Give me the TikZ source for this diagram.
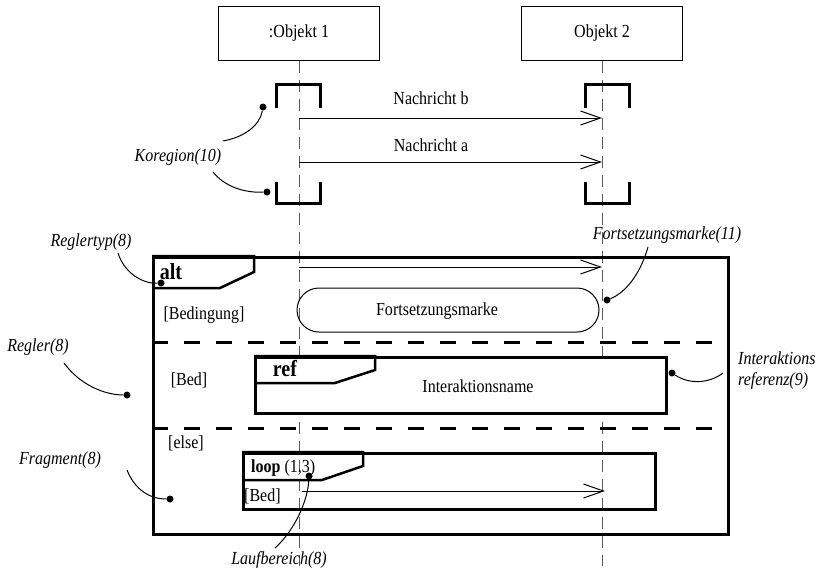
\documentclass[tikz,border=0pt]{standalone}
\usepackage{fontspec}
\setmainfont{Liberation Serif}[FakeStretch=0.87]
\usetikzlibrary{arrows.meta}
\begin{document}
\begin{tikzpicture}[x=1pt,y=-1pt,
  every node/.style={inner sep=0pt, font=\fontsize{18.4}{21}\selectfont},
  obj/.style={draw, line width=1pt, minimum width=161pt, minimum height=54pt},
  lifeline/.style={draw=black!65, line width=1pt, dash pattern=on 12pt off 7pt},
  coreg/.style={line width=3pt},
  msg/.style={line width=1pt, -{Straight Barb[length=20pt,width=14pt,line width=1pt]}},
  frame/.style={draw, line width=2.5pt},
  sep/.style={line width=3pt, dash pattern=on 16pt off 16pt},
  note/.style={font=\fontsize{18.4}{21}\selectfont\itshape},
  dot/.style={circle, fill, minimum size=7pt, inner sep=0pt},
  lead/.style={line width=1pt},
  kw/.style={font=\fontsize{23}{26}\selectfont\bfseries}
]
\useasboundingbox (0,0) rectangle (819,573);

% objects and their lifelines
\node[obj] (o1) at (299,33) {:Objekt 1};
\node[obj] (o2) at (602,33) {Objekt 2};
\coordinate (l1end) at (299,566);
\coordinate (l2end) at (602,566);
\draw[lifeline] (o1.south) -- (l1end);
\draw[lifeline] (o2.south) -- (l2end);

% coregions
\draw[coreg] (276,108) -- (276,84) -- (320,84) -- (320,108);
\draw[coreg] (276,182) -- (276,203) -- (320,203) -- (320,182);
\draw[coreg] (585,108) -- (585,84) -- (629,84) -- (629,108);
\draw[coreg] (585,182) -- (585,203) -- (629,203) -- (629,182);

% messages
\coordinate (mbs) at (299,118); \coordinate (mbe) at (602,118);
\coordinate (mas) at (299,162); \coordinate (mae) at (602,162);
\draw[msg] (mbs) -- (mbe);
\draw[msg] (mas) -- (mae);
\node (nb) at (431,98) {Nachricht b};
\node (na) at (431,145) {Nachricht a};

% alt fragment
\node[frame, anchor=north west, minimum width=575pt, minimum height=277pt] (alt) at (152,256) {};
\draw[frame] (152,256) -- (254,256) -- (254,272) -- (220,288) -- (152,288);
\node[kw] (altkw) at (171,272) {alt};
\coordinate (mcs) at (299,267); \coordinate (mce) at (602,267);
\draw[msg] (mcs) -- (mce);
\node[draw, line width=1pt, rounded corners=22pt, minimum width=302pt, minimum height=44pt] (cont) at (448,310) {};
\node (conttext) at (437,311) {Fortsetzungsmarke};
\node (g1) at (204,315) {[Bedingung]};
\draw[sep] (152,342) -- (727,342);
\node (g2) at (189,380) {[Bed]};
\draw[sep] (152,428) -- (727,428);
\node (g3) at (186,443) {[else]};

% interaction use
\node[frame, fill=white, anchor=north west, minimum width=411pt, minimum height=56pt] (ref) at (254,356) {};
\draw[frame] (254,356) -- (375,356) -- (375,370) -- (335,383) -- (254,383);
\node[kw] (refkw) at (285,369) {ref};
\node (refname) at (478,386) {Interaktionsname};

% loop fragment
\node[frame, anchor=north west, minimum width=412pt, minimum height=56pt] (loop) at (242,452) {};
\draw[frame] (242,452) -- (363,452) -- (363,466) -- (322,480) -- (242,480);
\node[anchor=west] (loopkw) at (251,468) {\textbf{loop} (1,3)};
\node[anchor=west] (g4) at (244,496) {[Bed]};
\coordinate (mds) at (302,491); \coordinate (mde) at (605,491);
\draw[msg] (mds) -- (mde);

% annotations
\node[note] (kor) at (178,157) {Koregion(10)};
\node[dot] (dk1) at (263,107) {};
\node[dot] (dk2) at (267,192) {};
\coordinate (k1) at (223,141); \coordinate (k2) at (213,172);
\draw[lead] (k1) .. controls (245,137) and (260,125) .. (dk1);
\draw[lead] (k2) .. controls (225,187) and (245,193) .. (dk2);

\node[note] (rtyp) at (91,242) {Reglertyp(8)};
\node[dot] (drt) at (161,283) {};
\coordinate (rt) at (118,253);
\draw[lead] (rt) .. controls (125,275) and (145,284) .. (drt);

\node[note] (fm) at (667,235) {Fortsetzungsmarke(11)};
\node[dot] (dfm) at (607,300) {};
\coordinate (fmc) at (648,247);
\draw[lead] (fmc) .. controls (640,275) and (625,293) .. (dfm);

\node[note] (reg) at (38,347) {Regler(8)};
\node[dot] (drg) at (127,395) {};
\coordinate (rg) at (64,363);
\draw[lead] (rg) .. controls (80,385) and (105,395) .. (drg);

\node[note, anchor=west] (ir1) at (738,358) {Interaktions};
\node[note, anchor=west] (ir2) at (738,381) {referenz(9)};
\node[dot] (dir) at (672,373) {};
\coordinate (irc) at (723,373);
\draw[lead] (dir) .. controls (690,385) and (710,383) .. (irc);

\node[note] (frag) at (60,460) {Fragment(8)};
\node[dot] (dfr) at (170,499) {};
\coordinate (fr) at (127,470);
\draw[lead] (fr) .. controls (135,490) and (150,499) .. (dfr);

\node[note] (lauf) at (279,560) {Laufbereich(8)};
\node[dot] (dlb) at (309,476) {};
\coordinate (lb) at (275,548);
\draw[lead] (lb) .. controls (295,530) and (308,500) .. (dlb);
\end{tikzpicture}
\end{document}
